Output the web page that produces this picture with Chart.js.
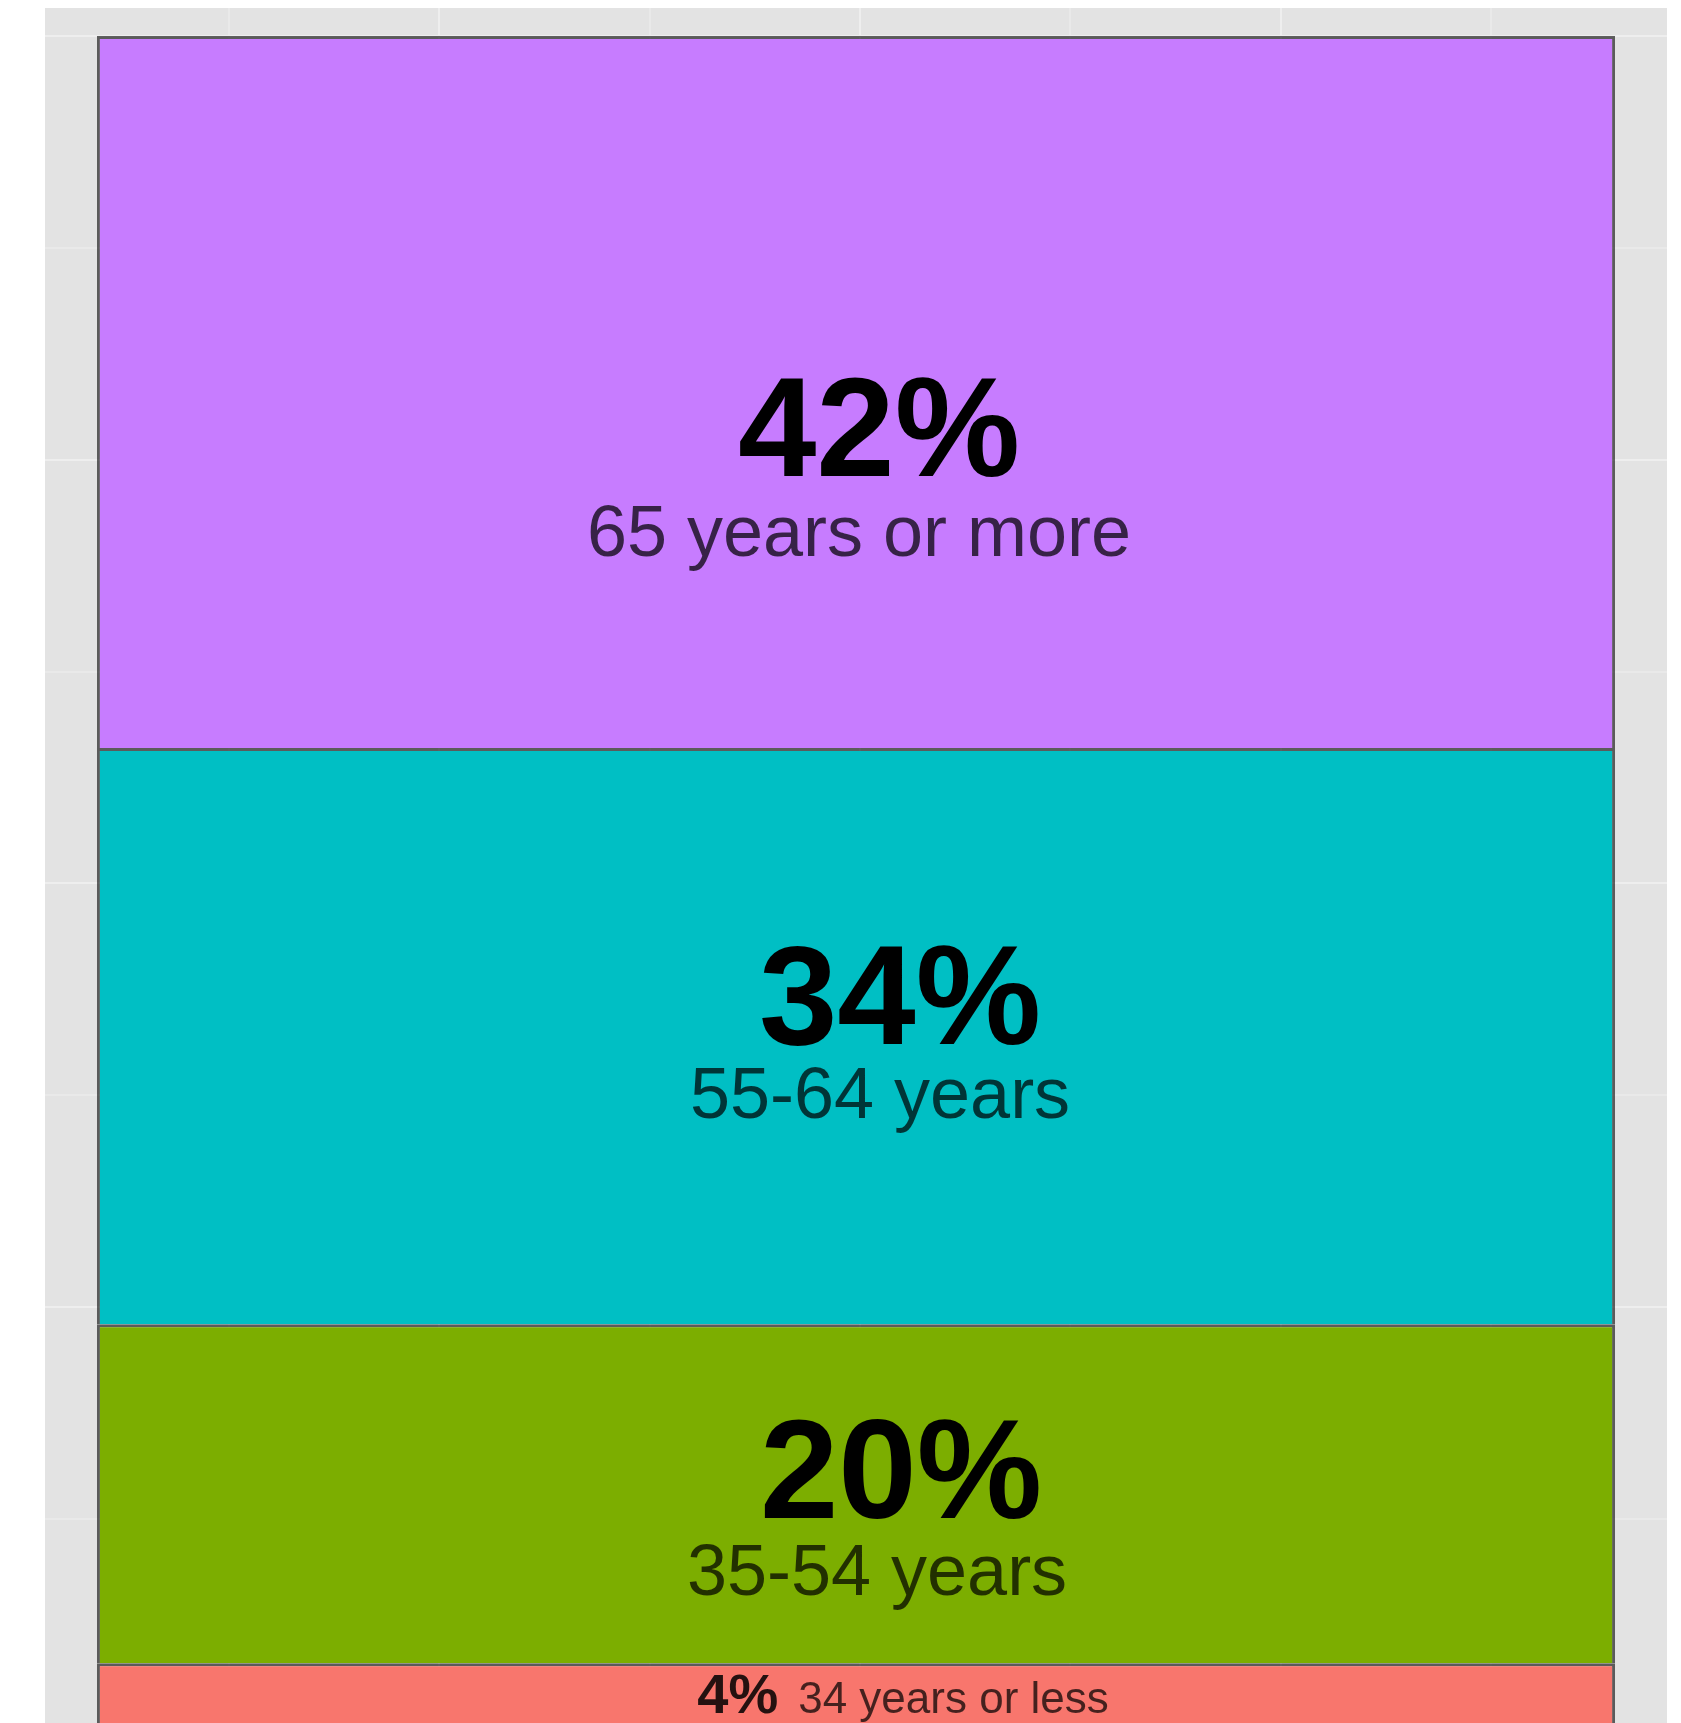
<!DOCTYPE html>
<html lang="en">
<head>
    <meta charset="UTF-8">
    <title>Age groups - stacked share</title>
    <style>
        html, body { margin: 0; padding: 0; background: #fff; overflow: hidden; }
        canvas { display: block; }
    </style>
</head>
<body>
    <canvas id="myChart" width="1681" height="1740"></canvas>

    <script src="https://cdn.jsdelivr.net/npm/chart.js"></script>
    <script>
        // data (bottom segment first)
        const groups = ['34 years or less', '35-54 years', '55-64 years', '65 years or more'];
        const shares = [4, 20, 34, 42];
        const category = ['Total'];

        // grid breaks
        const yBreaks = [0, 12.5, 25, 37.5, 50, 62.5, 75, 87.5, 100];
        const xBreaks = [-0.5, 0, 0.5, 1, 1.5, 2, 2.5];

        // styling
        const fills = ['#F8766D', '#7CAE00', '#00BFC4', '#C77CFF'];
        const panelColor = '#E3E3E3';
        const FONT = '"Liberation Sans", Arial, Helvetica, sans-serif';

        // label nudges in pixels relative to segment centre
        const pctDx = [47, 45, 44, 23];
        const subDx = [47, 21, 24, 3];
        const pctDy = [16, 24, 8, 84];
        const subDy = [16, 101, 82, 164];

        const panelBg = {
            id: 'panelBg',
            beforeDraw(chart) {
                const { ctx, chartArea: a } = chart;
                ctx.save();
                ctx.fillStyle = panelColor;
                ctx.fillRect(a.left, a.top, a.right - a.left, a.bottom - a.top);
                ctx.restore();
            }
        };

        const segLabels = {
            id: 'segLabels',
            afterDatasetsDraw(chart) {
                const ctx = chart.ctx;
                ctx.save();
                ctx.textBaseline = 'alphabetic';
                chart.data.datasets.forEach((ds, i) => {
                    const bar = chart.getDatasetMeta(i).data[0];
                    const p = bar.getProps(['x', 'y', 'base'], true);
                    const cy = (p.y + p.base) / 2;
                    const pct = ds.data[0] + '%';
                    if (ds.data[0] < 10) {
                        // small segment: one line, percent + group
                        ctx.font = 'bold 56px ' + FONT;
                        const w1 = ctx.measureText(pct).width;
                        ctx.font = '44px ' + FONT;
                        const w2 = ctx.measureText(ds.label).width;
                        const gap = 20;
                        const left = p.x + pctDx[i] - (w1 + gap + w2) / 2;
                        ctx.textAlign = 'left';
                        ctx.font = 'bold 56px ' + FONT;
                        ctx.fillStyle = 'rgba(0,0,0,0.85)';
                        ctx.fillText(pct, left, cy + pctDy[i]);
                        ctx.font = '44px ' + FONT;
                        ctx.fillStyle = 'rgba(0,0,0,0.72)';
                        ctx.fillText(ds.label, left + w1 + gap, cy + subDy[i]);
                    } else {
                        ctx.textAlign = 'center';
                        ctx.font = 'bold 141px ' + FONT;
                        ctx.fillStyle = '#000';
                        ctx.fillText(pct, p.x + pctDx[i], cy + pctDy[i]);
                        ctx.font = '72px ' + FONT;
                        ctx.fillStyle = 'rgba(0,0,0,0.72)';
                        ctx.fillText(ds.label, p.x + subDx[i], cy + subDy[i]);
                    }
                });
                ctx.restore();
            }
        };

        const gridY = (c) => {
            if (!c.tick) return 'rgba(0,0,0,0)';
            return c.tick.value % 25 === 0 ? '#EEEEEE' : '#E9E9E9';
        };
        const gridX = (c) => {
            if (!c.tick) return 'rgba(0,0,0,0)';
            return Number.isInteger(c.tick.value) ? '#EEEEEE' : '#E9E9E9';
        };

        const data = {
            labels: category,
            datasets: groups.map((g, i) => ({
                label: g,
                data: [shares[i]],
                backgroundColor: fills[i],
                borderColor: 'rgba(0,0,0,0.6)',
                borderWidth: 3,
                borderSkipped: 'bottom',
                categoryPercentage: 1,
                barPercentage: 0.936,
                xAxisID: 'x'
            }))
        };

        const config = {
            type: 'bar',
            data: data,
            options: {
                responsive: false,
                animation: false,
                devicePixelRatio: 1,
                layout: { padding: { left: 45, right: 14, top: 8, bottom: 9 } },
                plugins: {
                    legend: { display: false },
                    tooltip: { enabled: false },
                    title: { display: false }
                },
                scales: {
                    x: {
                        stacked: true,
                        display: false
                    },
                    // only used for the vertical panel grid
                    xg: {
                        type: 'linear',
                        position: 'top',
                        bounds: 'data',
                        offset: false,
                        min: -0.936,
                        max: 2.917,
                        afterBuildTicks: (s) => { s.ticks = xBreaks.map(v => ({ value: v })); },
                        ticks: { display: false },
                        grid: { color: gridX, lineWidth: 2, drawTicks: false, offset: false },
                        border: { display: false }
                    },
                    y: {
                        stacked: true,
                        bounds: 'data',
                        min: 0,
                        max: 101.65,
                        afterBuildTicks: (s) => { s.ticks = yBreaks.map(v => ({ value: v })); },
                        ticks: { display: false },
                        grid: { color: gridY, lineWidth: 2, drawTicks: false },
                        border: { display: false }
                    }
                }
            },
            plugins: [panelBg, segLabels]
        };

        new Chart(document.getElementById('myChart').getContext('2d'), config);
    </script>
</body>
</html>
